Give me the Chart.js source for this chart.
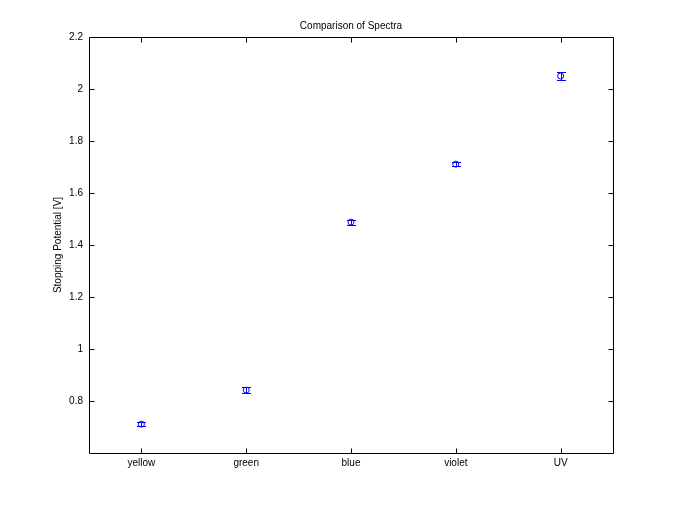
<!DOCTYPE html>
<html>
<head>
<meta charset="utf-8">
<script src="https://cdn.jsdelivr.net/npm/chart.js@4"></script>
<style>
  html, body { margin: 0; padding: 0; background: #fff; }
</style>
</head>
<body>
<canvas id="chart" width="677" height="509"></canvas>
<script>
// data
const categories = ["yellow", "green", "blue", "violet", "UV"];
const potentials = [0.711, 0.842, 1.488, 1.711, 2.050];
const errors = [0.008, 0.012, 0.010, 0.008, 0.015];
const yTicks = [0.8, 1.0, 1.2, 1.4, 1.6, 1.8, 2.0, 2.2];
const yTickLabels = ["0.8", "1", "1.2", "1.4", "1.6", "1.8", "2", "2.2"];

const FONT = { family: "'Liberation Sans', Arial, sans-serif", size: 10, weight: "normal" };

// errorbars + matlab style box with inward ticks
const matlabBox = {
  id: "matlabBox",
  afterDatasetsDraw(chart) {
    const ctx = chart.ctx;
    const xs = chart.scales.x, ys = chart.scales.y;
    const a = chart.chartArea;
    ctx.save();

    // error bars
    ctx.strokeStyle = "#0000ff";
    ctx.lineWidth = 1;
    potentials.forEach((v, i) => {
      const px = Math.round(xs.getPixelForValue(i + 1)) + 0.5;
      const top = Math.round(ys.getPixelForValue(v + errors[i])) + 0.5;
      const bot = Math.round(ys.getPixelForValue(v - errors[i])) + 0.5;
      ctx.beginPath();
      ctx.moveTo(px, top); ctx.lineTo(px, bot);
      ctx.moveTo(px - 4.5, top); ctx.lineTo(px + 4.5, top);
      ctx.moveTo(px - 4.5, bot); ctx.lineTo(px + 4.5, bot);
      ctx.stroke();
    });

    // frame
    const L = Math.round(a.left) + 0.5, R = Math.round(a.right) + 0.5;
    const T = Math.round(a.top) + 0.5, B = Math.round(a.bottom) + 0.5;
    ctx.strokeStyle = "#000";
    ctx.beginPath();
    ctx.rect(L, T, R - L, B - T);
    const tl = 5;
    yTicks.forEach(t => {
      const py = Math.round(ys.getPixelForValue(t)) + 0.5;
      ctx.moveTo(L, py); ctx.lineTo(L + tl, py);
      ctx.moveTo(R, py); ctx.lineTo(R - tl, py);
    });
    categories.forEach((c, i) => {
      const px = Math.round(xs.getPixelForValue(i + 1)) + 0.5;
      ctx.moveTo(px, B); ctx.lineTo(px, B - tl);
      ctx.moveTo(px, T); ctx.lineTo(px, T + tl);
    });
    ctx.stroke();
    ctx.restore();
  }
};

new Chart(document.getElementById("chart"), {
  type: "scatter",
  data: {
    datasets: [{
      data: potentials.map((v, i) => ({ x: i + 1, y: v })),
      borderColor: "#0000ff",
      backgroundColor: "rgba(0,0,0,0)",
      borderWidth: 1,
      pointRadius: 3,
      pointHoverRadius: 3,
      showLine: false
    }]
  },
  options: {
    responsive: false,
    animation: false,
    devicePixelRatio: 1,
    layout: { padding: { left: 0, right: 64, top: 0, bottom: 0 } },
    plugins: {
      legend: { display: false },
      tooltip: { enabled: false },
      title: {
        display: true,
        fullSize: false,
        text: "Comparison of Spectra",
        color: "#000",
        font: FONT,
        padding: { top: 20, bottom: 5 }
      }
    },
    scales: {
      x: {
        type: "linear",
        min: 0.5,
        max: 5.5,
        grid: { display: false, drawTicks: false },
        border: { display: false },
        afterBuildTicks: s => { s.ticks = categories.map((c, i) => ({ value: i + 1 })); },
        afterFit: s => { s.height = 56; },
        ticks: {
          color: "#000",
          font: FONT,
          padding: 4,
          maxRotation: 0,
          autoSkip: false,
          callback: v => categories[v - 1]
        }
      },
      y: {
        min: 0.6,
        max: 2.2,
        grid: { display: false, drawTicks: false },
        border: { display: false },
        afterBuildTicks: s => { s.ticks = yTicks.map(v => ({ value: v })); },
        afterFit: s => { s.width = 89; },
        ticks: {
          color: "#000",
          font: FONT,
          padding: 6,
          autoSkip: false,
          callback: (v, i) => yTickLabels[i]
        },
        title: {
          display: true,
          text: "Stopping Potential [V]",
          color: "#000",
          font: FONT,
          padding: { top: 52, bottom: 0 }
        }
      }
    }
  },
  plugins: [matlabBox]
});
</script>
</body>
</html>
